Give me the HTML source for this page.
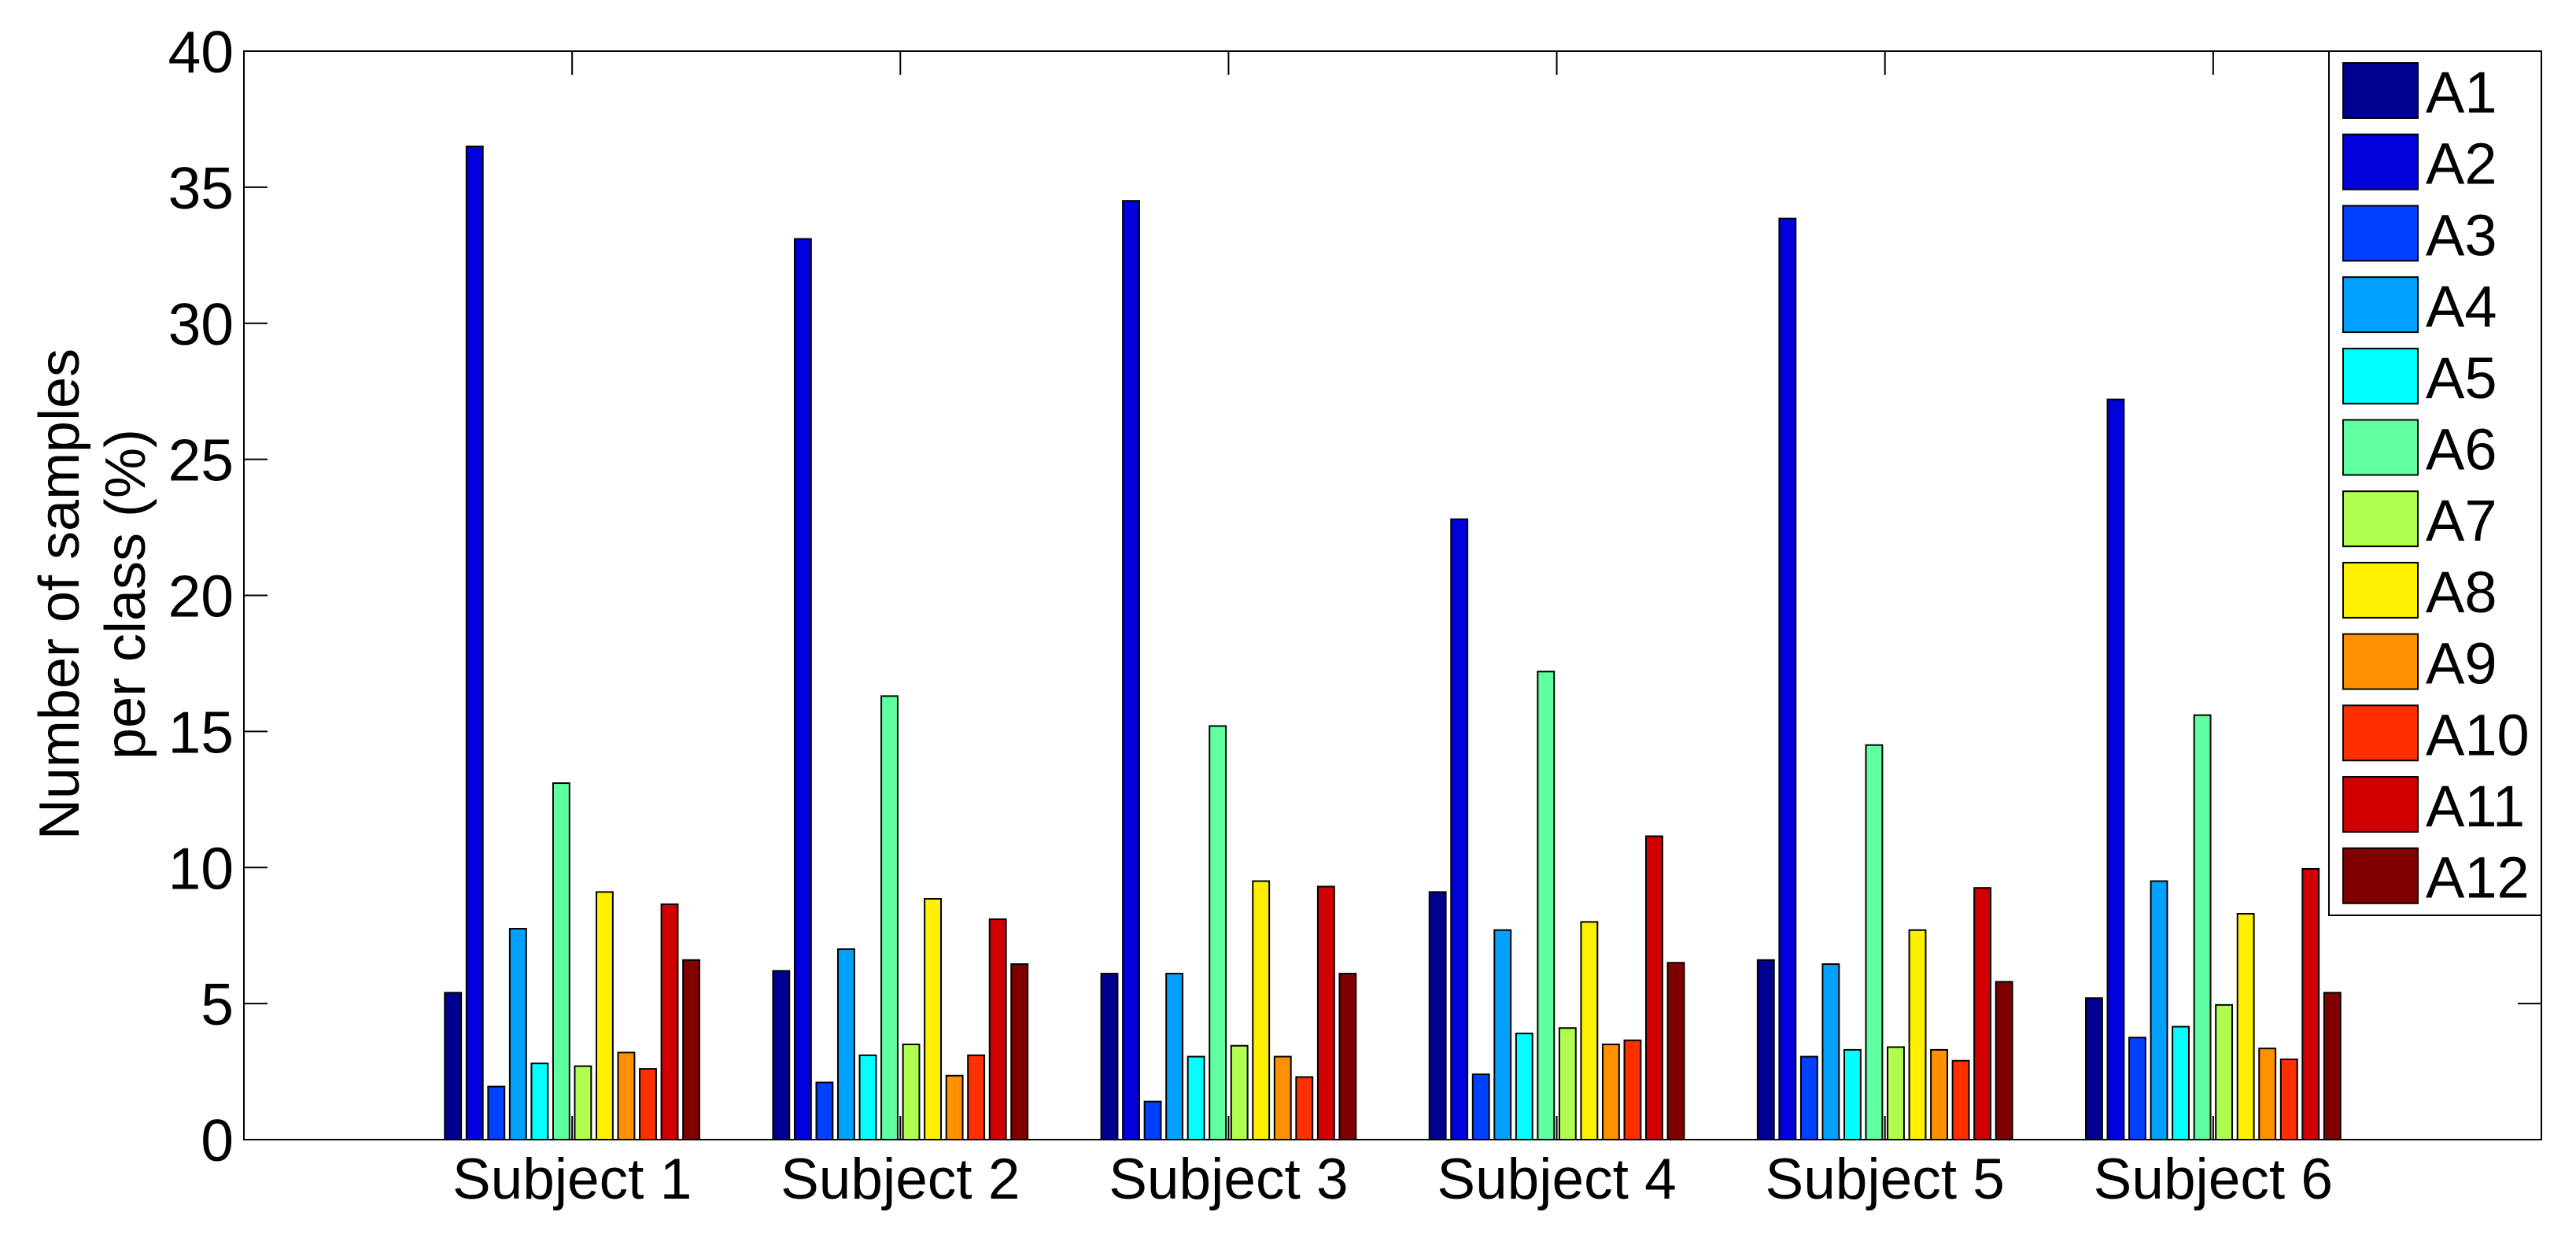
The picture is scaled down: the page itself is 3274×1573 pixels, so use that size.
<!DOCTYPE html>
<html><head><meta charset="utf-8"><style>
html,body{margin:0;padding:0;background:#fff;}
svg{display:block;font-family:"Liberation Sans",Arial,sans-serif;}
</style></head><body>
<svg id="chart" width="3274" height="1573" viewBox="0 0 3274 1573" xmlns="http://www.w3.org/2000/svg">
<g id="plot"></g>
<text transform="translate(100,755) rotate(-90)" font-size="72" text-anchor="middle">Number of samples</text>
<text transform="translate(184,755) rotate(-90)" font-size="72" text-anchor="middle">per class (%)</text>
</svg>
<script>
const categories = ["Subject 1","Subject 2","Subject 3","Subject 4","Subject 5","Subject 6"];
const seriesNames = ["A1","A2","A3","A4","A5","A6","A7","A8","A9","A10","A11","A12"];
const seriesColors = ["#000090","#0000DD","#0040FF","#00A0FF","#00FFFF","#60FF9F","#B0FF50","#FFF000","#FF9000","#FF3000","#D00000","#800000"];
const subject1 = [5.4,36.5,1.95,7.75,2.8,13.1,2.7,9.1,3.2,2.6,8.65,6.6];
const subject2 = [6.2,33.1,2.1,7.0,3.1,16.3,3.5,8.85,2.35,3.1,8.1,6.45];
const subject3 = [6.1,34.5,1.4,6.1,3.05,15.2,3.45,9.5,3.05,2.3,9.3,6.1];
const subject4 = [9.1,22.8,2.4,7.7,3.9,17.2,4.1,8.0,3.5,3.65,11.15,6.5];
const subject5 = [6.6,33.85,3.05,6.45,3.3,14.5,3.4,7.7,3.3,2.9,9.25,5.8];
const subject6 = [5.2,27.2,3.75,9.5,4.15,15.6,4.95,8.3,3.35,2.95,9.95,5.4];
const yTicks = [0,5,10,15,20,25,30,35,40];

const groups = [subject1,subject2,subject3,subject4,subject5,subject6];
const NS = "http://www.w3.org/2000/svg";
const L=310, R=3230, T=65, B=1448;
const xMin=0, xMax=7, yMin=0, yMax=40;
const xs = v => L + (v - xMin) / (xMax - xMin) * (R - L);
const ys = v => B - (v - yMin) / (yMax - yMin) * (B - T);
const plot = document.getElementById('plot');
function mk(tag, attrs){const e=document.createElementNS(NS,tag);for(const k in attrs)e.setAttribute(k,attrs[k]);plot.appendChild(e);return e;}

const slot = 0.066, barW = 0.05;
groups.forEach((vals, gi) => {
  const c = gi + 1;
  vals.forEach((v, si) => {
    const xc = c + (si - 5.5) * slot;
    const r = mk('rect', {x: xs(xc - barW/2), y: ys(v), width: xs(xc + barW/2) - xs(xc - barW/2), height: ys(0) - ys(v), fill: seriesColors[si], stroke: '#000', 'stroke-width': 2});
    
    
  });
  const t = mk('text', {x: xs(c), y: 1523, 'font-size': 73, 'text-anchor': 'middle'});
  t.textContent = categories[gi];
  
  
  const tk = mk('path', {d: `M${xs(c)},${T}v30M${xs(c)},${B}v-30`, stroke: '#000', 'stroke-width': 2, fill: 'none'});
  
  
});

yTicks.forEach(v => {
  const tk = mk('path', {d: `M${L},${ys(v)}h30M${R},${ys(v)}h-30`, stroke: '#000', 'stroke-width': 2, fill: 'none'});
  
  
  const t = mk('text', {x: 297, y: ys(v) + 27, 'font-size': 75, 'text-anchor': 'end'});
  t.textContent = v;
  
  
});

const frame = mk('rect', {x: L, y: T, width: R - L, height: B - T, fill: 'none', stroke: '#000', 'stroke-width': 2});



const lg = mk('rect', {x: 2960, y: T, width: R - 2960, height: 1163 - T, fill: '#fff', stroke: '#000', 'stroke-width': 2});


seriesNames.forEach((n, i) => {
  const y0 = 80 + i * 90.7;
  const sw = mk('rect', {x: 2978, y: y0, width: 95, height: 70, fill: seriesColors[i], stroke: '#000', 'stroke-width': 2});
  
  
  const t = mk('text', {x: 3083, y: y0 + 63, 'font-size': 74});
  t.textContent = n;
  
  
});
</script>
</body></html>
